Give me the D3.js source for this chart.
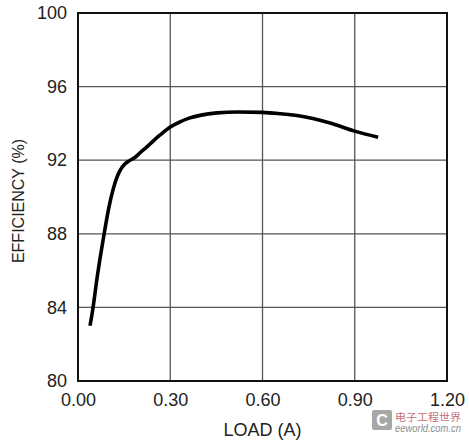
<!DOCTYPE html>
<html>
<head>
<meta charset="utf-8">
<script src="https://cdn.jsdelivr.net/npm/d3@7"></script>
<style>
  html, body { margin: 0; padding: 0; background: #fff; }
  svg text { font-family: "Liberation Sans Narrow", "Arial Narrow", "Liberation Sans", sans-serif; }
</style>
</head>
<body>
<svg id="chart" width="469" height="440"></svg>
<script>
const loadA = [0.039, 0.049, 0.062, 0.075, 0.085, 0.100, 0.114, 0.125, 0.137, 0.150, 0.163, 0.185, 0.205, 0.224, 0.245, 0.267, 0.300, 0.330, 0.364, 0.400, 0.452, 0.520, 0.600, 0.660, 0.722, 0.820, 0.900, 0.976];
const efficiency = [83.0, 84.0, 85.6, 87.0, 88.0, 89.4, 90.4, 91.0, 91.45, 91.75, 91.93, 92.15, 92.45, 92.72, 93.05, 93.37, 93.8, 94.07, 94.3, 94.45, 94.57, 94.62, 94.6, 94.52, 94.4, 94.02, 93.58, 93.25];
const xTicks = [0.00, 0.30, 0.60, 0.90, 1.20];
const yTicks = [80, 84, 88, 92, 96, 100];
const xTitle = "LOAD (A)";
const yTitle = "EFFICIENCY (%)";

const svg = d3.select("#chart");
const m = { left: 78, right: 447, top: 13, bottom: 381 };
const x = d3.scaleLinear().domain([0, 1.2]).range([m.left, m.right]);
const y = d3.scaleLinear().domain([80, 100]).range([m.bottom, m.top]);

// grid
svg.append("g").selectAll("line").data(xTicks.slice(1, -1)).join("line")
  .attr("x1", d => x(d)).attr("x2", d => x(d))
  .attr("y1", m.top).attr("y2", m.bottom)
  .attr("stroke", "#555").attr("stroke-width", 1.3);
svg.append("g").selectAll("line").data(yTicks.slice(1, -1)).join("line")
  .attr("y1", d => y(d)).attr("y2", d => y(d))
  .attr("x1", m.left).attr("x2", m.right)
  .attr("stroke", "#555").attr("stroke-width", 1.3);

// frame
svg.append("rect").attr("x", m.left).attr("y", m.top)
  .attr("width", m.right - m.left).attr("height", m.bottom - m.top)
  .attr("fill", "none").attr("stroke", "#111").attr("stroke-width", 2);

const ff = '"Liberation Sans Narrow", "Arial Narrow", "Liberation Sans", sans-serif';
const xAxis = d3.axisBottom(x).tickValues(xTicks).tickFormat(d3.format(".2f")).tickSize(0).tickPadding(12);
const gx = svg.append("g").attr("transform", `translate(0,${m.bottom})`).call(xAxis);
gx.select(".domain").remove();
gx.selectAll("text").attr("font-size", 18).attr("fill", "#222").style("font-family", ff);

const yAxis = d3.axisLeft(y).tickValues(yTicks).tickFormat(d3.format("d")).tickSize(0).tickPadding(11);
const gy = svg.append("g").attr("transform", `translate(${m.left},0)`).call(yAxis);
gy.select(".domain").remove();
gy.selectAll("text").attr("font-size", 18).attr("fill", "#222").style("font-family", ff);

// titles
svg.append("text").attr("x", (m.left + m.right) / 2).attr("y", 436)
  .attr("text-anchor", "middle").attr("font-size", 18).attr("fill", "#222").text(xTitle);
svg.append("text").attr("transform", `translate(24,201) rotate(-90)`)
  .attr("text-anchor", "middle").attr("font-size", 16).attr("fill", "#222").text(yTitle);

// curve
const line = d3.line().x((d, i) => x(loadA[i])).y(d => y(d)).curve(d3.curveMonotoneX);
svg.append("path").datum(efficiency).attr("d", line)
  .attr("fill", "none").attr("stroke", "#000").attr("stroke-width", 3.6)
  .attr("stroke-linecap", "butt");

// watermark
const wm = svg.append("g").attr("opacity", 0.75);
wm.append("rect").attr("x", 372).attr("y", 410).attr("width", 20).attr("height", 20).attr("fill", "#8a8a8a").attr("rx", 2);
wm.append("text").attr("x", 382).attr("y", 426).attr("text-anchor", "middle").attr("font-size", 16)
  .attr("font-weight", "bold").attr("fill", "#fff").text("C");
wm.append("text").attr("x", 395).attr("y", 421).attr("font-size", 10)
  .attr("textLength", 66).attr("lengthAdjust", "spacingAndGlyphs")
  .style("font-family", '"Noto Sans CJK SC", sans-serif').attr("fill", "#b04050").text("电子工程世界");
wm.append("text").attr("x", 395).attr("y", 432).attr("font-size", 10).attr("font-style", "italic")
  .attr("textLength", 66).attr("lengthAdjust", "spacingAndGlyphs")
  .attr("fill", "#666").text("eeworld.com.cn");
</script>
</body>
</html>
